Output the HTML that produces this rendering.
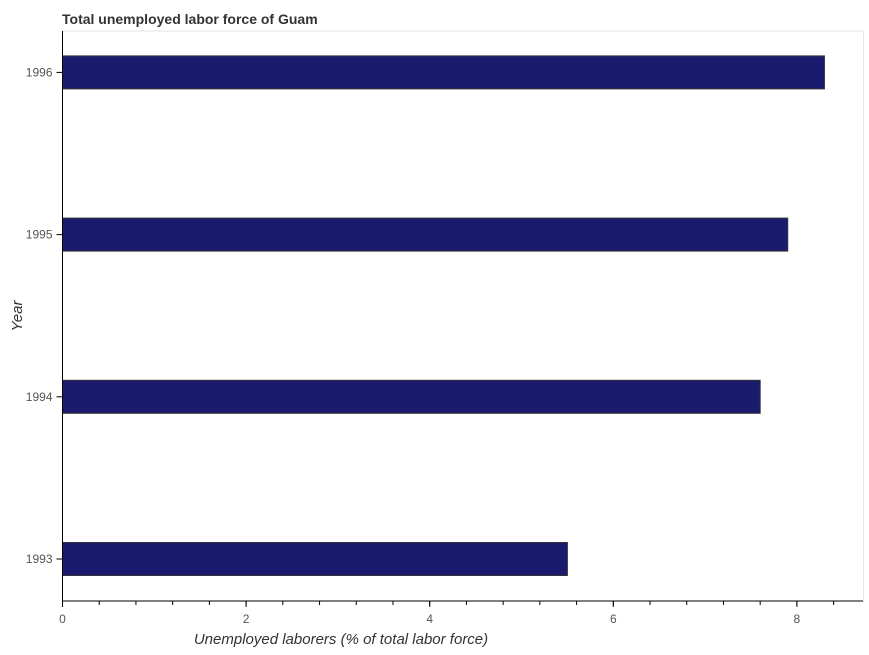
<!DOCTYPE html>
<html><head><meta charset="utf-8"><style>
body{margin:0;background:#fff;font-family:"Liberation Sans",sans-serif}
</style></head><body>
<svg width="869" height="650" xmlns="http://www.w3.org/2000/svg">
<text x="62" y="24" font-size="14" font-weight="bold" fill="#333">Total unemployed labor force of Guam</text>
<rect x="62.5" y="31" width="801" height="570" fill="#fff" stroke="#e6e6e6"/>
<g id="bars"></g>
<g id="axes"></g>
<text x="341" y="644" font-size="15" font-style="italic" fill="#333" text-anchor="middle">Unemployed laborers (% of total labor force)</text>
<text transform="translate(22,316) rotate(-90)" font-size="15" font-style="italic" fill="#333" text-anchor="middle">Year</text>
</svg>
<script>
const categories=["1993","1994","1995","1996"];
const values=[5.5,7.6,7.9,8.3];
const xTicks=[0,2,4,6,8];
const NS="http://www.w3.org/2000/svg";
const x0=62.5, ppu=91.8, bottom=601;
function xs(v){return x0+v*ppu;}
function yc(i){return 559-i*162.2;}
function mk(t,a,p){const e=document.createElementNS(NS,t);for(const k in a)e.setAttribute(k,a[k]);p.appendChild(e);return e;}
const bars=document.getElementById('bars'),axes=document.getElementById('axes');
categories.forEach((c,i)=>{
 const r=mk('rect',{x:x0,y:yc(i)-16.5,width:xs(values[i])-x0,height:33,fill:'#1a1a6e',stroke:'#333','stroke-width':1},bars);
 
 
 mk('line',{x1:x0-6,x2:x0,y1:yc(i),y2:yc(i),stroke:'#000'},axes);
 const t=mk('text',{x:x0-10,y:yc(i)+4,'font-size':12,fill:'#555','text-anchor':'end'},axes);
 t.textContent=c;
 
 
});
mk('line',{x1:x0,x2:x0,y1:31,y2:bottom,stroke:'#000'},axes);
mk('line',{x1:x0,x2:863,y1:bottom,y2:bottom,stroke:'#000'},axes);
for(let v=0;v<=8.6;v+=0.4){mk('line',{x1:xs(v),x2:xs(v),y1:bottom,y2:bottom+4,stroke:'#000'},axes);}
xTicks.forEach(v=>{
 mk('line',{x1:xs(v),x2:xs(v),y1:bottom,y2:bottom+6,stroke:'#000'},axes);
 const t=mk('text',{x:xs(v),y:bottom+22,'font-size':12,fill:'#555','text-anchor':'middle'},axes);
 t.textContent=v;
 
 
});
</script>
</body></html>
